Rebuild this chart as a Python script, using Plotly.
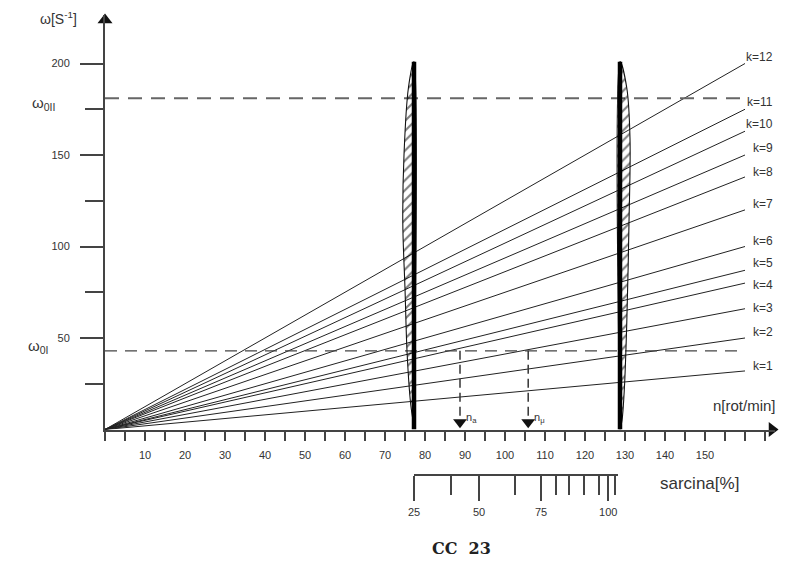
import plotly.graph_objects as go

# ---------------- data ----------------
k_labels = ["k=1", "k=2", "k=3", "k=4", "k=5", "k=6",
            "k=7", "k=8", "k=9", "k=10", "k=11", "k=12"]
omega_at_n_end = [32, 50, 66, 80, 87, 100, 120, 138, 150, 163, 175, 200]
k_label_shift = [5, 6, 1, -2, 7, 6, 6, 5, 7, 7, 7, 7]   # px above line end
n_end = 160

omega_0I = 43
omega_0II = 181

n_marks = [88.75, 105.8]
n_mark_labels = ["n<sub>a</sub>", "n<sub>μ</sub>"]

bar_n = [77.25, 128.75]
bar_top = 201

# hatched tolerance bands beside the bars (omega level, width in n-units)
lens1_omega = [201, 186.6, 150, 113, 77, 40.7, 13.4, 2]
lens1_width = [0, 1.4, 2.5, 2.8, 2.25, 1.7, 0.8, 0]
lens2_omega = [201, 186.6, 159, 113, 58.7, 22.7, 5, 0]
lens2_width = [0, 1.7, 2.5, 2.25, 1.7, 1.1, 0.5, 0]

x_tick_vals = list(range(10, 160, 10))
y_major = [50, 100, 150, 200]
y_minor = [25, 75, 125, 175]

sarcina_labels = ["25", "50", "75", "100"]
sarcina_major_n = [77.25, 93.5, 109.0, 125.8]
sarcina_minor_n = [86.4, 102.5, 112.7, 116.1, 119.75, 123.6, 127.5]

# ---------------- layout helpers ----------------
# the page body adds an 8px offset, so the figure is 8px smaller
W, H = 792, 569
ML, MR, MT, MB = 97, 25, 7, 57
PW, PH = W - ML - MR, H - MT - MB
def pxx(x):            # window px -> paper fraction
    return (x - 8 - ML) / PW
def pxy(y):
    return (H - MB - (y - 8)) / PH

FONT = "Liberation Sans, Arial, sans-serif"
AX = "#444"
TXT = "#333"

fig = go.Figure()

# k lines
for lab, w in zip(k_labels, omega_at_n_end):
    fig.add_trace(go.Scatter(x=[0, n_end], y=[0, w], mode="lines",
                             line=dict(color="#222", width=1),
                             showlegend=False, hoverinfo="skip"))

# dashed omega levels
fig.add_trace(go.Scatter(x=[0, n_end], y=[omega_0II, omega_0II], mode="lines",
                         line=dict(color="#666", width=2, dash="14px,9px"),
                         showlegend=False, hoverinfo="skip"))
fig.add_trace(go.Scatter(x=[0, n_end], y=[omega_0I, omega_0I], mode="lines",
                         line=dict(color="#444", width=1.2, dash="12px,8px"),
                         showlegend=False, hoverinfo="skip"))

# hatched bands
l1x = [bar_n[0] - w for w in lens1_width] + [bar_n[0], bar_n[0]]
l1y = lens1_omega + [lens1_omega[-1], lens1_omega[0]]
l2x = [bar_n[1] + w for w in lens2_width] + [bar_n[1], bar_n[1]]
l2y = lens2_omega + [lens2_omega[-1], lens2_omega[0]]
for lx, ly in [(l1x, l1y), (l2x, l2y)]:
    fig.add_trace(go.Scatter(x=lx, y=ly, mode="lines", fill="toself",
                             fillcolor="rgba(0,0,0,0)",
                             fillpattern=dict(shape="/", size=7, solidity=0.3,
                                              fgcolor="#000", fillmode="overlay"),
                             line=dict(color="#111", width=1.1, shape="spline"),
                             showlegend=False, hoverinfo="skip"))

# thick bars
for b in bar_n:
    fig.add_trace(go.Scatter(x=[b, b], y=[0, bar_top], mode="lines",
                             line=dict(color="#000", width=4.5),
                             showlegend=False, hoverinfo="skip"))

# n marks (dashed vertical with arrow)
for n in n_marks:
    fig.add_trace(go.Scatter(x=[n, n], y=[omega_0I, 7], mode="lines",
                             line=dict(color="#333", width=1.5, dash="9px,5px"),
                             showlegend=False, hoverinfo="skip"))
fig.add_trace(go.Scatter(x=n_marks, y=[4] * len(n_marks), mode="markers",
                         marker=dict(symbol="triangle-down", size=12, color="#111"),
                         cliponaxis=False, showlegend=False, hoverinfo="skip"))

# axis arrows (kept inside the axis ranges)
fig.add_trace(go.Scatter(x=[0], y=[223.8], mode="markers",
                         marker=dict(symbol="triangle-up", size=13, color="#111"),
                         cliponaxis=False, showlegend=False, hoverinfo="skip"))
fig.add_trace(go.Scatter(x=[166.75], y=[0], mode="markers",
                         marker=dict(symbol="triangle-right", size=13, color="#111"),
                         cliponaxis=False, showlegend=False, hoverinfo="skip"))

# invisible trace on the load (sarcina) scale
fig.add_trace(go.Scatter(x=sarcina_major_n, y=[0] * len(sarcina_major_n),
                         xaxis="x2", yaxis="y2", mode="markers",
                         marker=dict(opacity=0), showlegend=False, hoverinfo="skip"))

annotations = []
for lab, w, s in zip(k_labels, omega_at_n_end, k_label_shift):
    annotations.append(dict(x=167.5, y=w, xref="x", yref="y", text=lab,
                            showarrow=False, xanchor="right", yanchor="middle",
                            yshift=s, font=dict(family=FONT, size=12, color=TXT)))
for n, lab in zip(n_marks, n_mark_labels):
    annotations.append(dict(x=n, y=4, xref="x", yref="y", text=lab,
                            showarrow=False, xanchor="left", yanchor="middle",
                            xshift=4, yshift=4, font=dict(family=FONT, size=11, color=TXT)))

def centered(x, y, text, size, family=FONT, color=TXT, yref="paper", yshift=0):
    return dict(x=x, y=y, xref="paper", yref=yref, text=text, showarrow=False,
                xanchor="center", yanchor="middle", yshift=yshift,
                font=dict(family=family, size=size, color=color))

annotations += [
    centered(pxx(58), pxy(18), "ω[S<sup>-1</sup>]", 14),
    centered(pxx(43), omega_0II, "ω<sub>0II</sub>", 15, yref="y", yshift=-5),
    centered(pxx(38), omega_0I, "ω<sub>0I</sub>", 15, yref="y", yshift=4),
    centered(pxx(744), pxy(405), "n[rot/min]", 15),
    centered(pxx(699), pxy(483), "sarcina[%]", 17),
    centered(pxx(461), pxy(548), "<b>CC  23</b>", 16,
             family="DejaVu Serif, serif", color="#222"),
]

y_dom0 = pxy(429.5)
fig.update_layout(
    width=W, height=H,
    margin=dict(l=ML, r=MR, t=MT, b=MB, autoexpand=False),
    paper_bgcolor="white", plot_bgcolor="white",
    showlegend=False,
    annotations=annotations,
    xaxis=dict(range=[0, 167.5], showgrid=False, zeroline=False, automargin=False,
               showline=True, linecolor=AX, linewidth=2,
               tickmode="array", tickvals=x_tick_vals,
               ticks="outside", ticklen=9, tickwidth=1.5, tickcolor=AX,
               minor=dict(tickmode="linear", tick0=0, dtick=5, ticks="outside",
                          ticklen=9, tickwidth=1.5, tickcolor=AX, showgrid=False),
               tickfont=dict(family=FONT, size=11, color=TXT),
               ticklabelstandoff=5, anchor="y"),
    yaxis=dict(domain=[y_dom0, 1], range=[0, 226.5], showgrid=False, zeroline=False,
               automargin=False,
               showline=True, linecolor=AX, linewidth=2,
               tickmode="array", tickvals=y_major,
               ticks="outside", ticklen=23, tickwidth=2, tickcolor=AX,
               minor=dict(tickmode="array", tickvals=y_minor, ticks="outside",
                          ticklen=18, tickwidth=2, tickcolor=AX, showgrid=False),
               tickfont=dict(family=FONT, size=11, color=TXT),
               ticklabelstandoff=8, anchor="x"),
    xaxis2=dict(domain=[pxx(414), pxx(618)], range=[77.25, 128.25], anchor="y2",
                automargin=False,
                showgrid=False, zeroline=False, showline=True, linecolor=AX, linewidth=1.5,
                tickmode="array", tickvals=sarcina_major_n, ticktext=sarcina_labels,
                ticks="outside", ticklen=25, tickwidth=1.5, tickcolor=AX,
                minor=dict(tickmode="array", tickvals=sarcina_minor_n, ticks="outside",
                           ticklen=19, tickwidth=1.5, tickcolor=AX, showgrid=False),
                tickfont=dict(family=FONT, size=11, color=TXT), ticklabelstandoff=2),
    yaxis2=dict(domain=[pxy(474), pxy(474) + 0.04], range=[0, 1], visible=False,
                anchor="x2", automargin=False),
)

fig.write_html("out.html")
